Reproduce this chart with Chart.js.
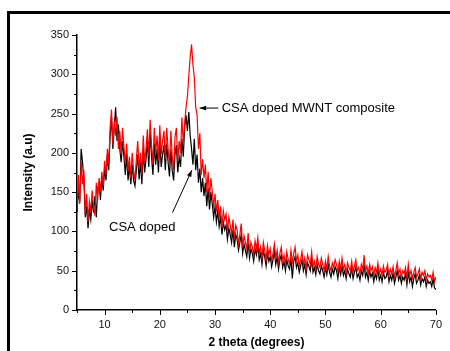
<!DOCTYPE html>
<html>
<head>
<meta charset="utf-8">
<script src="https://cdn.jsdelivr.net/npm/chart.js@4"></script>
<style>
  body { margin: 0; background: #fff; }
  #wrap { position: relative; width: 450px; height: 351px; overflow: hidden; }
  #frame {
    position: absolute; left: 7px; top: 11px; width: 460px; height: 360px;
    border-top: 3px solid #000; border-left: 3px solid #000; pointer-events: none;
  }
</style>
</head>
<body>
<div id="wrap">
  <canvas id="xrd"></canvas>
  <div id="frame"></div>
</div>
<script>
// 2 theta (degrees), 0.25 step
const twoTheta = [
  5, 5.25, 5.5, 5.75, 6, 6.25, 6.5, 6.75, 7, 7.25, 7.5, 7.75, 8, 8.25, 8.5, 8.75,
  9, 9.25, 9.5, 9.75, 10, 10.25, 10.5, 10.75, 11, 11.25, 11.5, 11.75, 12, 12.25, 12.5, 12.75,
  13, 13.25, 13.5, 13.75, 14, 14.25, 14.5, 14.75, 15, 15.25, 15.5, 15.75, 16, 16.25, 16.5, 16.75,
  17, 17.25, 17.5, 17.75, 18, 18.25, 18.5, 18.75, 19, 19.25, 19.5, 19.75, 20, 20.25, 20.5, 20.75,
  21, 21.25, 21.5, 21.75, 22, 22.25, 22.5, 22.75, 23, 23.25, 23.5, 23.75, 24, 24.25, 24.5, 24.75,
  25, 25.25, 25.5, 25.75, 26, 26.25, 26.5, 26.75, 27, 27.25, 27.5, 27.75, 28, 28.25, 28.5, 28.75,
  29, 29.25, 29.5, 29.75, 30, 30.25, 30.5, 30.75, 31, 31.25, 31.5, 31.75, 32, 32.25, 32.5, 32.75,
  33, 33.25, 33.5, 33.75, 34, 34.25, 34.5, 34.75, 35, 35.25, 35.5, 35.75, 36, 36.25, 36.5, 36.75,
  37, 37.25, 37.5, 37.75, 38, 38.25, 38.5, 38.75, 39, 39.25, 39.5, 39.75, 40, 40.25, 40.5, 40.75,
  41, 41.25, 41.5, 41.75, 42, 42.25, 42.5, 42.75, 43, 43.25, 43.5, 43.75, 44, 44.25, 44.5, 44.75,
  45, 45.25, 45.5, 45.75, 46, 46.25, 46.5, 46.75, 47, 47.25, 47.5, 47.75, 48, 48.25, 48.5, 48.75,
  49, 49.25, 49.5, 49.75, 50, 50.25, 50.5, 50.75, 51, 51.25, 51.5, 51.75, 52, 52.25, 52.5, 52.75,
  53, 53.25, 53.5, 53.75, 54, 54.25, 54.5, 54.75, 55, 55.25, 55.5, 55.75, 56, 56.25, 56.5, 56.75,
  57, 57.25, 57.5, 57.75, 58, 58.25, 58.5, 58.75, 59, 59.25, 59.5, 59.75, 60, 60.25, 60.5, 60.75,
  61, 61.25, 61.5, 61.75, 62, 62.25, 62.5, 62.75, 63, 63.25, 63.5, 63.75, 64, 64.25, 64.5, 64.75,
  65, 65.25, 65.5, 65.75, 66, 66.25, 66.5, 66.75, 67, 67.25, 67.5, 67.75, 68, 68.25, 68.5, 68.75,
  69, 69.25, 69.5, 69.75, 70
];

// CSA doped MWNT composite (red)
const compositeIntensity = [
  128, 172, 135, 188, 160, 178, 122, 148, 112, 138, 125, 152, 131, 120, 162, 140,
  168, 150, 176, 158, 190, 172, 205, 186, 232, 255, 210, 240, 222, 246, 205, 228,
  198, 232, 208, 185, 212, 176, 195, 168, 200, 178, 165, 192, 215, 180, 200, 172,
  222, 188, 205, 230, 196, 242, 210, 185, 232, 200, 222, 190, 235, 198, 215, 228,
  192, 232, 205, 185, 228, 196, 178, 220, 232, 190, 215, 200, 245, 212, 238, 258,
  272, 298, 322, 338, 312, 296, 258, 248, 205, 225, 172, 192, 168, 185, 150, 176,
  142, 168, 150, 132, 148, 125, 140, 118, 132, 105, 126, 115, 122, 100, 118, 108,
  96, 115, 90, 108, 102, 84, 96, 110, 80, 94, 86, 78, 98, 74, 86, 80,
  70, 88, 78, 92, 72, 80, 66, 86, 76, 64, 82, 70, 78, 62, 72, 84,
  66, 76, 60, 72, 80, 62, 70, 58, 74, 64, 58, 76, 60, 72, 80, 62,
  70, 56, 64, 74, 58, 66, 52, 70, 64, 58, 74, 55, 62, 52, 68, 58,
  54, 66, 58, 50, 62, 52, 68, 56, 50, 60, 54, 64, 58, 48, 62, 52,
  66, 52, 58, 47, 60, 54, 50, 62, 48, 56, 64, 50, 54, 46, 58, 52,
  70, 50, 56, 46, 58, 50, 55, 44, 54, 48, 60, 46, 52, 44, 56, 48,
  50, 58, 44, 52, 46, 55, 42, 50, 60, 46, 52, 42, 50, 46, 54, 40,
  58, 44, 50, 40, 48, 54, 42, 46, 52, 40, 48, 44, 50, 38, 46, 42,
  44, 38, 48, 36, 42
];

// CSA doped (black)
const dopedIntensity = [
  125, 150, 138, 205, 188, 165, 118, 132, 104, 128, 115, 140, 124, 145, 118, 155,
  162, 140, 170, 152, 180, 165, 198, 178, 222, 245, 205, 232, 258, 215, 236, 205,
  188, 215, 195, 172, 198, 165, 185, 160, 185, 165, 158, 178, 198, 166, 188, 160,
  205, 175, 192, 215, 182, 225, 195, 172, 212, 185, 205, 175, 215, 182, 198, 210,
  178, 212, 188, 170, 205, 178, 165, 198, 210, 175, 195, 182, 218, 195, 232, 248,
  228, 252, 222, 205, 185, 218, 178, 198, 162, 180, 150, 168, 145, 162, 132, 155,
  128, 150, 135, 118, 132, 112, 126, 106, 118, 96, 112, 102, 108, 90, 104, 96,
  86, 102, 80, 96, 90, 76, 86, 96, 72, 84, 76, 68, 86, 66, 78, 72,
  62, 78, 70, 82, 64, 72, 58, 76, 68, 56, 72, 62, 68, 55, 64, 74,
  58, 68, 52, 64, 70, 54, 62, 50, 64, 56, 52, 66, 40, 62, 68, 54,
  60, 48, 56, 64, 50, 58, 45, 60, 56, 50, 64, 48, 54, 45, 58, 50,
  46, 56, 50, 42, 54, 45, 58, 48, 42, 52, 46, 55, 50, 40, 54, 45,
  56, 44, 50, 40, 52, 46, 42, 54, 40, 48, 55, 42, 46, 38, 50, 44,
  58, 42, 48, 38, 50, 42, 47, 36, 46, 40, 52, 38, 44, 36, 48, 40,
  42, 50, 36, 44, 38, 47, 34, 42, 50, 38, 44, 34, 42, 38, 46, 32,
  48, 36, 42, 30, 40, 46, 34, 38, 44, 32, 40, 36, 42, 30, 38, 34,
  36, 30, 40, 28, 26
];

const xMajorTicks = [10, 20, 30, 40, 50, 60, 70];
const xMinorTicks = [5, 15, 25, 35, 45, 55, 65];
const yMajorTicks = [0, 50, 100, 150, 200, 250, 300, 350];
const yMinorTicks = [25, 75, 125, 175, 225, 275, 325];

const FONT = '"Liberation Sans", Arial, sans-serif';

// tick marks outside the axes plus the two labelled arrows
const decorations = {
  id: 'decorations',
  afterDraw(chart) {
    const { ctx, scales: { x, y } } = chart;
    ctx.save();
    ctx.strokeStyle = '#000';
    ctx.lineWidth = 1;
    const axisY = y.getPixelForValue(0);
    const axisX = x.getPixelForValue(5);
    const tickX = (vals, len) => vals.forEach(v => {
      const px = Math.round(x.getPixelForValue(v)) + 0.5;
      ctx.beginPath(); ctx.moveTo(px, axisY); ctx.lineTo(px, axisY + len); ctx.stroke();
    });
    const tickY = (vals, len) => vals.forEach(v => {
      const py = Math.round(y.getPixelForValue(v)) + 0.5;
      ctx.beginPath(); ctx.moveTo(axisX, py); ctx.lineTo(axisX - len, py); ctx.stroke();
    });
    tickX(xMajorTicks, 5); tickX(xMinorTicks, 3);
    tickY(yMajorTicks, 5); tickY(yMinorTicks, 3);

    const arrow = (x0, y0, x1, y1) => {
      const ax = x.getPixelForValue(x0), ay = y.getPixelForValue(y0);
      const bx = x.getPixelForValue(x1), by = y.getPixelForValue(y1);
      const ang = Math.atan2(by - ay, bx - ax);
      ctx.beginPath(); ctx.moveTo(ax, ay); ctx.lineTo(bx, by); ctx.stroke();
      ctx.beginPath();
      ctx.moveTo(bx, by);
      ctx.lineTo(bx - 7 * Math.cos(ang - 0.35), by - 7 * Math.sin(ang - 0.35));
      ctx.lineTo(bx - 7 * Math.cos(ang + 0.35), by - 7 * Math.sin(ang + 0.35));
      ctx.closePath(); ctx.fillStyle = '#000'; ctx.fill();
    };
    arrow(30.6, 257, 27.2, 257);
    arrow(22.3, 124, 25.8, 178);

    ctx.fillStyle = '#000';
    ctx.font = '13px ' + FONT;
    ctx.textBaseline = 'middle';
    ctx.textAlign = 'left';
    ctx.fillText('CSA doped MWNT composite', x.getPixelForValue(31.2), y.getPixelForValue(257));
    ctx.fillText('CSA doped', x.getPixelForValue(10.8), y.getPixelForValue(105));
    ctx.restore();
  }
};

new Chart(document.getElementById('xrd'), {
  type: 'line',
  data: {
    labels: twoTheta,
    datasets: [
      {
        label: 'CSA doped MWNT composite',
        data: compositeIntensity,
        borderColor: '#ff0000',
        borderWidth: 1.2,
        pointRadius: 0,
        tension: 0,
        order: 0
      },
      {
        label: 'CSA doped',
        data: dopedIntensity,
        borderColor: '#000000',
        borderWidth: 1.2,
        pointRadius: 0,
        tension: 0,
        order: 1
      }
    ]
  },
  options: {
    responsive: true,
    maintainAspectRatio: false,
    animation: false,
    layout: { padding: { top: 35, right: 13, left: 0, bottom: 0 } },
    plugins: { legend: { display: false }, tooltip: { enabled: false } },
    scales: {
      x: {
        type: 'linear',
        min: 5,
        max: 70,
        afterBuildTicks: s => { s.ticks = xMajorTicks.map(v => ({ value: v })); },
        afterFit: s => { s.height = 41; },
        grid: { display: true, drawOnChartArea: false, drawTicks: false },
        border: { color: '#000', width: 1.5 },
        ticks: { padding: 8, color: '#111', font: { family: FONT, size: 11 }, maxRotation: 0 },
        title: {
          display: true, text: '2 theta (degrees)', color: '#000',
          font: { family: FONT, size: 12, weight: 'bold' }, padding: { top: 0, bottom: 1 }
        }
      },
      y: {
        min: 0,
        max: 350,
        afterBuildTicks: s => { s.ticks = yMajorTicks.map(v => ({ value: v })); },
        afterFit: s => { s.width = 77; },
        grid: { display: true, drawOnChartArea: false, drawTicks: false },
        border: { color: '#000', width: 1.5 },
        ticks: { padding: 8, color: '#111', font: { family: FONT, size: 11 } },
        title: {
          display: true, text: 'Intensity (a.u)', color: '#000',
          font: { family: FONT, size: 12, weight: 'bold' }, padding: { top: 21, bottom: 0 }
        }
      }
    }
  },
  plugins: [decorations]
});
</script>
</body>
</html>
